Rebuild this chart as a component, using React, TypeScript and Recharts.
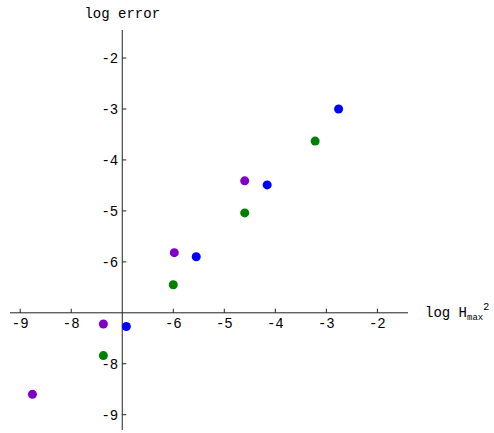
import { ScatterChart, Scatter, XAxis, YAxis, ZAxis, ReferenceLine, ReferenceDot } from 'recharts';

// log H_max^2 vs log error, three runs
const purplePts = [
  { x: -8.76, y: -8.6 },
  { x: -7.37, y: -7.22 },
  { x: -5.98, y: -5.82 },
  { x: -4.6, y: -4.41 },
];
const bluePts = [
  { x: -6.92, y: -7.27 },
  { x: -5.55, y: -5.9 },
  { x: -4.16, y: -4.49 },
  { x: -2.76, y: -3.0 },
];
const greenPts = [
  { x: -7.37, y: -7.84 },
  { x: -6.0, y: -6.45 },
  { x: -4.6, y: -5.04 },
  { x: -3.22, y: -3.63 },
];

const xTicks = [-9, -8, -6, -5, -4, -3, -2];
const yTicks = [-2, -3, -4, -5, -6, -8, -9];

const ORIGIN = -7;
const TICK_LEN = 0.08;
const FONT = '"Liberation Mono", "DejaVu Sans Mono", monospace';
const AXIS_COLOR = '#222';

const XTickLabel = (text: string) => (props: any) => {
  const { x, y } = props.viewBox;
  return (
    <text x={x} y={y + 15} textAnchor="middle" fontFamily={FONT} fontSize={14} fill="#000">
      {text}
    </text>
  );
};

const YTickLabel = (text: string) => (props: any) => {
  const { x, y } = props.viewBox;
  return (
    <text x={x - 4} y={y + 5} textAnchor="end" fontFamily={FONT} fontSize={14} fill="#000">
      {text}
    </text>
  );
};

const YAxisTitle = (props: any) => {
  const { x, y } = props.viewBox;
  return (
    <text x={x} y={y - 12} textAnchor="middle" fontFamily={FONT} fontSize={14} fill="#000">
      log error
    </text>
  );
};

const XAxisTitle = (props: any) => {
  const { x, y } = props.viewBox;
  return (
    <text x={x + 17} y={y + 4} fontFamily={FONT} fontSize={14} fill="#000">
      log H
      <tspan fontSize={9} dy={3}>max</tspan>
      <tspan fontSize={10} dy={-10}>2</tspan>
    </text>
  );
};

const App = () => {
  return (
    <div style={{ position: 'absolute', left: 0, top: 0, background: '#fff' }}>
      <ScatterChart width={494} height={433} margin={{ top: 30, right: 86, bottom: 3, left: 10 }}>
        <XAxis type="number" dataKey="x" domain={[-9.2, -1.4]} hide />
        <YAxis type="number" dataKey="y" domain={[-9.3, -1.45]} hide />
        <ZAxis range={[113, 113]} />

        {/* axes crossing at (-7, -7) */}
        <ReferenceLine y={ORIGIN} stroke={AXIS_COLOR} strokeWidth={1} />
        <ReferenceLine x={ORIGIN} stroke={AXIS_COLOR} strokeWidth={1} />

        {xTicks.map((t) => (
          <ReferenceLine
            key={`xt${t}`}
            segment={[{ x: t, y: ORIGIN }, { x: t, y: ORIGIN + TICK_LEN }]}
            stroke={AXIS_COLOR}
          />
        ))}
        {yTicks.map((t) => (
          <ReferenceLine
            key={`yt${t}`}
            segment={[{ x: ORIGIN, y: t }, { x: ORIGIN + TICK_LEN, y: t }]}
            stroke={AXIS_COLOR}
          />
        ))}
        {xTicks.map((t) => (
          <ReferenceDot key={`xl${t}`} x={t} y={ORIGIN} r={0} fill="none" stroke="none" label={{ content: XTickLabel(`-${Math.abs(t)}`) }} />
        ))}
        {yTicks.map((t) => (
          <ReferenceDot key={`yl${t}`} x={ORIGIN} y={t} r={0} fill="none" stroke="none" label={{ content: YTickLabel(`-${Math.abs(t)}`) }} />
        ))}
        <ReferenceDot x={ORIGIN} y={-1.45} r={0} fill="none" stroke="none" label={{ content: YAxisTitle }} />
        <ReferenceDot x={-1.4} y={ORIGIN} r={0} fill="none" stroke="none" label={{ content: XAxisTitle }} />

        <Scatter data={purplePts} fill="#8000c8" isAnimationActive={false} />
        <Scatter data={bluePts} fill="#0000ff" isAnimationActive={false} />
        <Scatter data={greenPts} fill="#008000" isAnimationActive={false} />
      </ScatterChart>
    </div>
  );
};

export default App;
